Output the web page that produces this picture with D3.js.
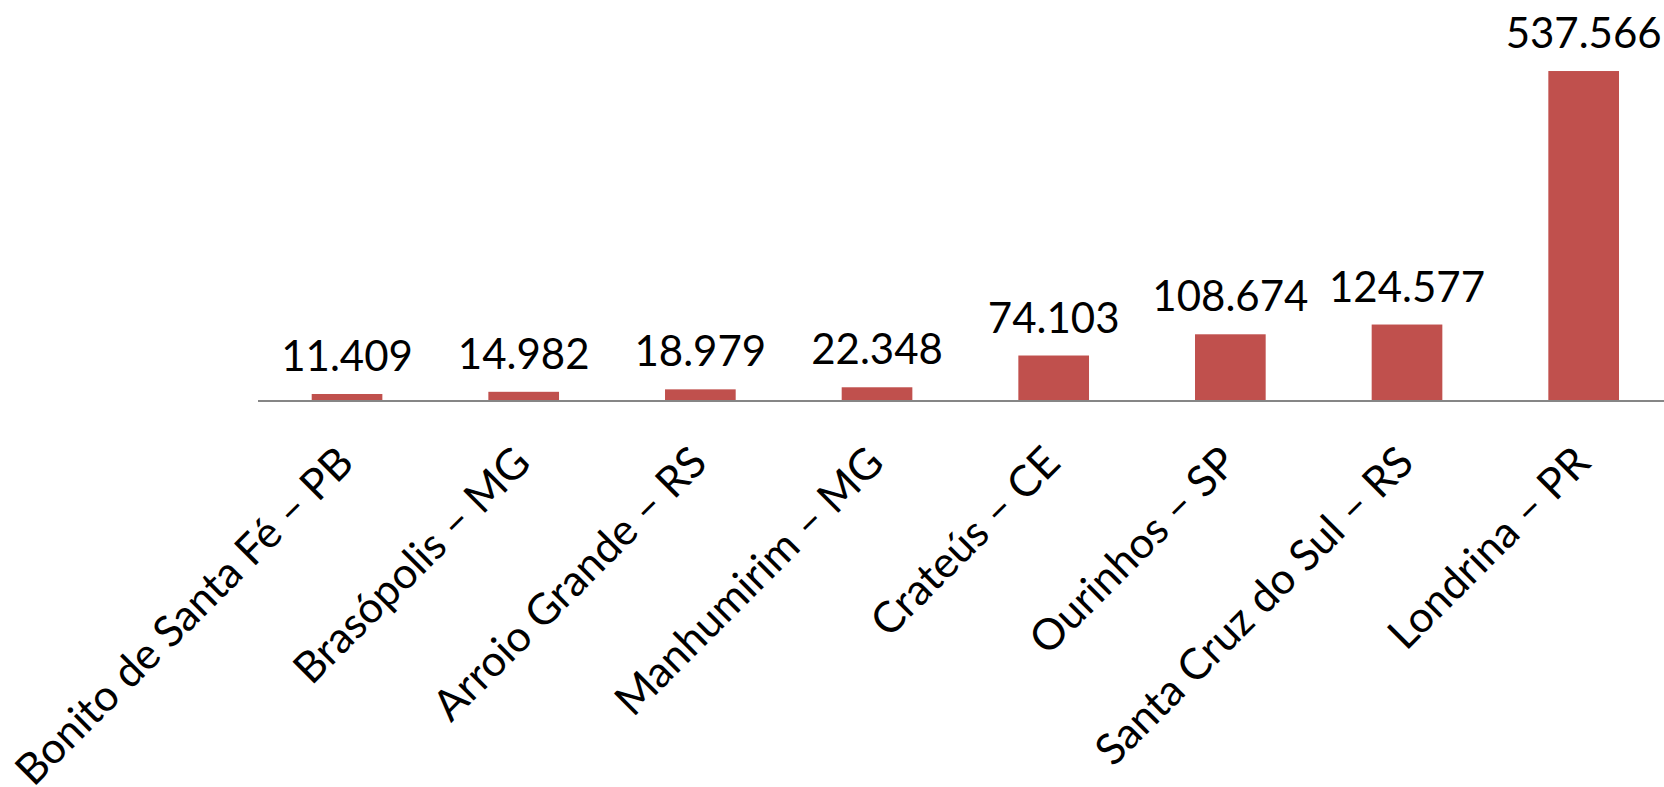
<!DOCTYPE html>
<html>
<head>
<meta charset="utf-8">
<script src="https://cdn.jsdelivr.net/npm/d3@7"></script>
<style>
  html, body { margin: 0; padding: 0; background: #fff; }
  svg { display: block; font-family: Lato, "Open Sans", sans-serif; }
</style>
</head>
<body>
<div id="chart"></div>
<script>
const cities = [
  'Bonito de Santa Fé – PB',
  'Brasópolis – MG',
  'Arroio Grande – RS',
  'Manhumirim – MG',
  'Crateús – CE',
  'Ourinhos – SP',
  'Santa Cruz do Sul – RS',
  'Londrina – PR'
];
const population = [11409, 14982, 18979, 22348, 74103, 108674, 124577, 537566];

const width = 1664;
const height = 787;
const axisY = 401;

const ptBR = d3.formatLocale({ decimal: ',', thousands: '.', grouping: [3], currency: ['R$', ''] });
const fmt = ptBR.format(',d');

const svg = d3.select('#chart')
  .append('svg')
  .attr('width', width)
  .attr('height', height);

const x = d3.scaleBand()
  .domain(cities)
  .range([258.7, 1672])
  .paddingInner(0.6)
  .paddingOuter(0.3);

const y = d3.scaleLinear()
  .domain([0, 600000])
  .range([axisY, axisY - 368.3]);

const data = cities.map((c, i) => ({ city: c, value: population[i] }));

// bars
svg.selectAll('.bar')
  .data(data)
  .enter().append('rect')
  .attr('class', 'bar')
  .attr('x', d => x(d.city))
  .attr('y', d => y(d.value))
  .attr('width', x.bandwidth())
  .attr('height', d => y(0) - y(d.value))
  .attr('fill', '#c0504d');

// data labels
svg.selectAll('.label')
  .data(data)
  .enter().append('text')
  .attr('class', 'label')
  .attr('x', d => x(d.city) + x.bandwidth() / 2)
  .attr('y', d => y(d.value) - 23)
  .attr('text-anchor', 'middle')
  .style('font-size', '42px')
  .attr('fill', '#000')
  .text(d => fmt(d.value));

// x axis line
svg.append('line')
  .attr('x1', 258)
  .attr('x2', width)
  .attr('y1', axisY)
  .attr('y2', axisY)
  .attr('stroke', '#868686')
  .attr('stroke-width', 2);

// category labels, rotated
svg.selectAll('.cat')
  .data(cities)
  .enter().append('text')
  .attr('class', 'cat')
  .attr('text-anchor', 'end')
  .style('font-size', '43px')
  .attr('fill', '#000')
  .attr('transform', d => `translate(${x(d) + x.bandwidth() / 2 + 9},${axisY + 64}) rotate(-45)`)
  .text(d => d);
</script>
</body>
</html>
